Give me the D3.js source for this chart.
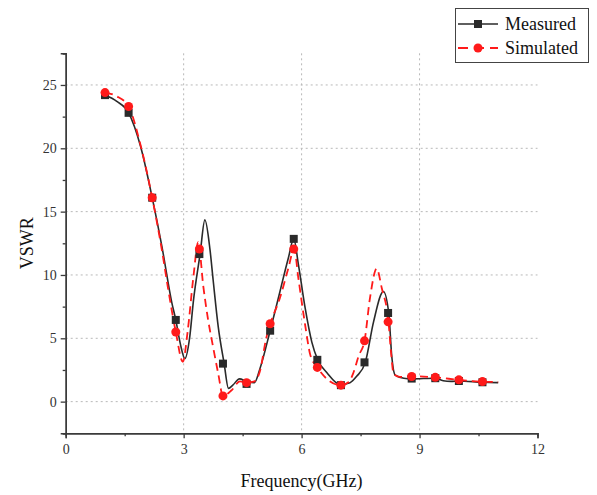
<!DOCTYPE html>
<html><head><meta charset="utf-8">
<script src="https://cdn.jsdelivr.net/npm/d3@7"></script>
<style>
html,body{margin:0;padding:0;background:#fff;}
svg text{font-family:"Liberation Serif","Times New Roman",serif;}
</style></head>
<body><svg id="chart" width="597" height="495"></svg>
<script>
// ---- data ----
const markerFreq = [1.0,1.6,2.2,2.8,3.4,4.0,4.6,5.2,5.8,6.4,7.0,7.6,8.2,8.8,9.4,10.0,10.6];
const measuredMarkers  = [24.2,22.8,16.1,6.45,11.65,3.0,1.4,5.6,12.85,3.3,1.3,3.1,7.0,1.82,1.85,1.63,1.53];
const simulatedMarkers = [24.4,23.3,16.1,5.5,12.05,0.45,1.5,6.15,12.05,2.7,1.3,4.8,6.3,1.98,1.92,1.72,1.58];

const measuredCurveFreq = [1.0,1.3,1.6,1.9,2.2,2.45,2.7,2.8,2.92,3.03,3.15,3.25,3.42,3.54,3.67,3.75,3.88,4.03,4.14,4.25,4.42,4.6,4.8,4.94,5.2,5.45,5.66,5.8,5.92,6.09,6.26,6.41,6.64,6.98,7.23,7.4,7.62,7.83,8.08,8.22,8.29,8.38,8.6,8.8,9.4,9.6,9.8,10.0,10.6,11.0];
const measuredCurveVSWR = [24.2,23.7,22.8,20.2,16.1,12.2,7.8,6.45,4.5,3.4,5.0,8.0,11.7,14.35,12.0,9.6,5.9,3.0,1.05,1.3,1.8,1.6,1.5,2.6,5.6,8.7,11.3,12.85,10.8,7.4,4.7,3.3,2.3,1.35,1.5,2.0,3.1,6.3,8.7,6.9,3.7,2.1,1.85,1.8,1.85,1.65,1.6,1.63,1.53,1.5];

const simulatedCurveFreq = [1.0,1.3,1.6,1.9,2.2,2.45,2.6,2.8,2.98,3.1,3.25,3.37,3.5,3.62,3.75,3.88,4.0,4.22,4.43,4.6,4.8,4.94,5.1,5.2,5.45,5.66,5.81,5.92,6.09,6.22,6.4,6.68,7.0,7.2,7.32,7.45,7.6,7.74,7.91,8.04,8.21,8.28,8.34,8.5,8.8,9.4,10.0,10.6,11.0];
const simulatedCurveVSWR = [24.4,24.1,23.3,20.3,16.1,11.9,9.0,5.5,3.15,5.5,9.9,12.6,9.1,6.5,4.3,2.2,0.45,0.9,1.6,1.5,1.6,2.4,5.0,6.1,8.2,10.5,12.05,9.7,6.05,3.7,2.7,1.7,1.3,1.55,2.3,3.6,4.8,8.2,10.5,8.95,6.3,3.7,2.2,1.95,2.0,1.92,1.72,1.57,1.55];

const xTicks = [0,3,6,9,12];
const yTicks = [0,5,10,15,20,25];
const seriesNames = ["Measured","Simulated"];

// ---- layout ----
const svg = d3.select("#chart");
const x = d3.scaleLinear().domain([0,12]).range([65.7,537.5]);
const y = d3.scaleLinear().domain([-2.5,27.5]).range([433.3,53.3]);
const axisColor = "#3a3a3a";
const blk = "#2a2a2a", red = "#ff1a1a";

// grid
const grid = svg.append("g");
grid.selectAll("line.h").data(yTicks).join("line")
  .attr("x1",x(0)).attr("x2",x(12)).attr("y1",d=>y(d)).attr("y2",d=>y(d))
  .attr("stroke","#b8b8b8").attr("stroke-width",1).attr("stroke-dasharray","2,3");
grid.selectAll("line.v").data(xTicks.filter(d=>d>0&&d<12)).join("line")
  .attr("x1",d=>x(d)).attr("x2",d=>x(d)).attr("y1",y(27.5)).attr("y2",y(-2.5))
  .attr("stroke","#b8b8b8").attr("stroke-width",1).attr("stroke-dasharray","2,3");

// axes
const xAxis = d3.axisBottom(x).tickValues(xTicks).tickSize(5).tickPadding(6).tickFormat(d3.format("d"));
const xMinor = d3.axisBottom(x).tickValues([1.5,4.5,7.5,10.5]).tickSize(3).tickFormat("");
const yAxis = d3.axisLeft(y).tickValues(yTicks).tickSize(5).tickPadding(4).tickFormat(d3.format("d"));
const yMinor = d3.axisLeft(y).tickValues([-2.5,2.5,7.5,12.5,17.5,22.5,27.5]).tickSize(3).tickFormat("");

function style(g){
  g.select(".domain").attr("stroke",axisColor).attr("stroke-width",1.4);
  g.selectAll(".tick line").attr("stroke",axisColor).attr("stroke-width",1.3);
  g.selectAll(".tick text").attr("fill","#333").style("font-size","14px")
   .style("font-family","'Liberation Serif',serif");
}
svg.append("g").attr("transform",`translate(0,${y(-2.5)})`).call(xMinor).call(style);
svg.append("g").attr("transform",`translate(0,${y(-2.5)})`).call(xAxis).call(style);
svg.append("g").attr("transform",`translate(${x(0)},0)`).call(yMinor).call(style);
svg.append("g").attr("transform",`translate(${x(0)},0)`).call(yAxis).call(style);

// axis titles
svg.append("text").attr("x",(x(0)+x(12))/2).attr("y",487).attr("text-anchor","middle")
  .style("font-size","18px").attr("fill","#111").text("Frequency(GHz)");
svg.append("text").attr("transform",`translate(33,${(y(-2.5)+y(27.5))/2}) rotate(-90)`)
  .attr("text-anchor","middle").style("font-size","18px").attr("fill","#111").text("VSWR");

// lines
const line = d3.line().x(d=>x(d[0])).y(d=>y(d[1])).curve(d3.curveMonotoneX);
const mCurve = measuredCurveFreq.map((f,i)=>[f,measuredCurveVSWR[i]]);
const sCurve = simulatedCurveFreq.map((f,i)=>[f,simulatedCurveVSWR[i]]);
svg.append("path").datum(mCurve).attr("d",line).attr("fill","none")
  .attr("stroke",blk).attr("stroke-width",1.6);
svg.append("path").datum(sCurve).attr("d",line).attr("fill","none")
  .attr("stroke",red).attr("stroke-width",1.8).attr("stroke-dasharray","8,5");

// markers
const mPts = markerFreq.map((f,i)=>[f,measuredMarkers[i]]);
const sPts = markerFreq.map((f,i)=>[f,simulatedMarkers[i]]);
const sq = 8;
svg.append("g").selectAll("rect").data(mPts).join("rect")
  .attr("x",d=>x(d[0])-sq/2).attr("y",d=>y(d[1])-sq/2).attr("width",sq).attr("height",sq)
  .attr("fill",blk);
svg.append("g").selectAll("circle").data(sPts).join("circle")
  .attr("cx",d=>x(d[0])).attr("cy",d=>y(d[1])).attr("r",4.5).attr("fill",red);

// legend
const lg = svg.append("g");
lg.append("rect").attr("x",455.5).attr("y",8.5).attr("width",133).attr("height",54)
  .attr("fill","#fff").attr("stroke","#444").attr("stroke-width",1);
lg.append("line").attr("x1",458).attr("x2",498).attr("y1",24).attr("y2",24).attr("stroke",blk).attr("stroke-width",1.6);
lg.append("rect").attr("x",478-sq/2).attr("y",24-sq/2).attr("width",sq).attr("height",sq).attr("fill",blk);
lg.append("line").attr("x1",458).attr("x2",498).attr("y1",48).attr("y2",48).attr("stroke",red).attr("stroke-width",1.8).attr("stroke-dasharray","10,6");
lg.append("circle").attr("cx",478).attr("cy",48).attr("r",4.5).attr("fill",red);
lg.selectAll("text.lt").data(seriesNames).join("text")
  .attr("x",505).attr("y",(d,i)=>30+i*24).style("font-size","18px").attr("fill","#111").text(d=>d);
</script></body></html>
